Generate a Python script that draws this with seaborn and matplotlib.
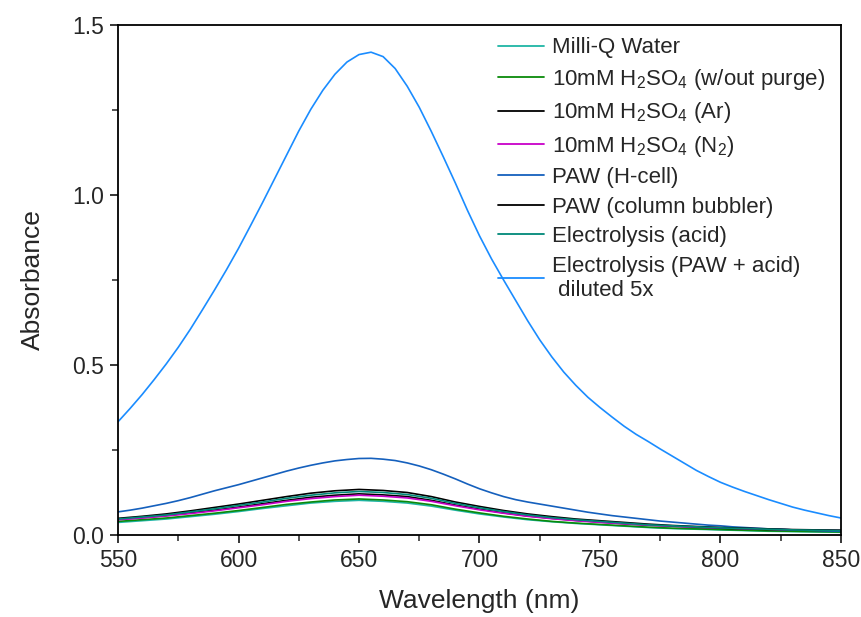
import numpy as np
import pandas as pd
import matplotlib
matplotlib.use("Agg")
import matplotlib.pyplot as plt
import seaborn as sns
from matplotlib.ticker import MultipleLocator

# wavelength grids (nm)
wl_coarse = [550, 560, 570, 580, 590, 600, 610, 620, 630, 640, 650, 660, 670, 680, 690,
             700, 710, 720, 730, 740, 750, 760, 770, 780, 790, 800, 810, 820, 830, 840, 850]
wl_fine = [550, 555, 560, 565, 570, 575, 580, 585, 590, 595, 600, 605, 610, 615, 620, 625,
           630, 635, 640, 645, 650, 655, 660, 665, 670, 675, 680, 685, 690, 695, 700, 705,
           710, 715, 720, 725, 730, 735, 740, 745, 750, 755, 760, 765, 770, 775, 780, 785,
           790, 795, 800, 805, 810, 815, 820, 825, 830, 835, 840, 845, 850]

milliq = [0.037, 0.042, 0.047, 0.054, 0.061, 0.069, 0.078, 0.086, 0.094, 0.099, 0.102, 0.099, 0.094, 0.085, 0.073,
          0.062, 0.053, 0.045, 0.039, 0.034, 0.030, 0.026, 0.022, 0.019, 0.017, 0.015, 0.013, 0.011, 0.010, 0.009, 0.008]
h2so4_nopurge = [0.040, 0.045, 0.050, 0.057, 0.064, 0.072, 0.081, 0.090, 0.097, 0.103, 0.106, 0.103, 0.098, 0.089, 0.076,
                 0.065, 0.055, 0.047, 0.040, 0.035, 0.031, 0.027, 0.023, 0.020, 0.018, 0.016, 0.014, 0.012, 0.011, 0.010, 0.009]
h2so4_ar = [0.046, 0.051, 0.057, 0.065, 0.073, 0.082, 0.092, 0.102, 0.111, 0.117, 0.121, 0.118, 0.113, 0.102, 0.088,
            0.076, 0.065, 0.056, 0.049, 0.043, 0.038, 0.033, 0.029, 0.026, 0.023, 0.020, 0.018, 0.016, 0.015, 0.014, 0.013]
h2so4_n2 = [0.045, 0.050, 0.056, 0.063, 0.071, 0.080, 0.089, 0.099, 0.107, 0.113, 0.117, 0.114, 0.109, 0.099, 0.086,
            0.074, 0.064, 0.055, 0.048, 0.042, 0.037, 0.033, 0.029, 0.026, 0.023, 0.021, 0.019, 0.017, 0.015, 0.014, 0.013]
paw_bubbler = [0.049, 0.055, 0.062, 0.071, 0.081, 0.091, 0.102, 0.113, 0.123, 0.130, 0.134, 0.131, 0.125, 0.113, 0.097,
               0.084, 0.072, 0.062, 0.054, 0.047, 0.042, 0.037, 0.032, 0.028, 0.025, 0.022, 0.020, 0.018, 0.016, 0.015, 0.014]
electro_acid = [0.047, 0.053, 0.059, 0.068, 0.077, 0.087, 0.097, 0.108, 0.117, 0.124, 0.128, 0.125, 0.119, 0.108, 0.093,
                0.080, 0.069, 0.059, 0.051, 0.045, 0.040, 0.035, 0.030, 0.027, 0.024, 0.021, 0.019, 0.017, 0.015, 0.014, 0.013]

paw_hcell = [0.068, 0.073, 0.079, 0.086, 0.093, 0.101, 0.110, 0.120, 0.130, 0.139, 0.148, 0.158, 0.168, 0.178, 0.188, 0.197,
             0.205, 0.212, 0.218, 0.222, 0.225, 0.2255, 0.223, 0.219, 0.212, 0.203, 0.192, 0.179, 0.165, 0.150, 0.136, 0.124,
             0.113, 0.104, 0.097, 0.091, 0.085, 0.079, 0.073, 0.067, 0.062, 0.057, 0.053, 0.049, 0.045, 0.041, 0.038, 0.035,
             0.032, 0.029, 0.027, 0.024, 0.022, 0.020, 0.018, 0.017, 0.015, 0.014, 0.013, 0.012, 0.011]
electro_paw = [0.333, 0.372, 0.413, 0.457, 0.503, 0.552, 0.605, 0.662, 0.720, 0.780, 0.843, 0.910, 0.978, 1.048, 1.118, 1.188,
               1.252, 1.308, 1.355, 1.391, 1.413, 1.420, 1.407, 1.372, 1.320, 1.258, 1.187, 1.112, 1.035, 0.955, 0.880, 0.812,
               0.750, 0.690, 0.630, 0.574, 0.524, 0.479, 0.440, 0.405, 0.375, 0.347, 0.320, 0.296, 0.275, 0.253, 0.232, 0.211,
               0.190, 0.172, 0.155, 0.141, 0.128, 0.116, 0.104, 0.093, 0.082, 0.073, 0.065, 0.057, 0.050]

labels = [
    "Milli-Q Water",
    "10mM H$_2$SO$_4$ (w/out purge)",
    "10mM H$_2$SO$_4$ (Ar)",
    "10mM H$_2$SO$_4$ (N$_2$)",
    "PAW (H-cell)",
    "PAW (column bubbler)",
    "Electrolysis (acid)",
    "Electrolysis (PAW + acid)\n diluted 5x",
]
series = [(wl_coarse, milliq), (wl_coarse, h2so4_nopurge), (wl_coarse, h2so4_ar), (wl_coarse, h2so4_n2),
          (wl_fine, paw_hcell), (wl_coarse, paw_bubbler), (wl_coarse, electro_acid), (wl_fine, electro_paw)]
colors = ["#1fb5a5", "#0a8a0a", "#000000", "#c800c8", "#1560bd", "#000000", "#008878", "#1a8cff"]

rows = []
for lab, (wls, vals) in zip(labels, series):
    for w, v in zip(wls, vals):
        rows.append({"Wavelength": w, "Absorbance": v, "Sample": lab})
df = pd.DataFrame(rows)

sns.set_style("ticks")
plt.rcParams["font.family"] = ["Liberation Sans", "DejaVu Sans"]
plt.rcParams["mathtext.fontset"] = "custom"
plt.rcParams["mathtext.rm"] = "Liberation Sans"
plt.rcParams["mathtext.it"] = "Liberation Sans:italic"
plt.rcParams["mathtext.bf"] = "Liberation Sans:bold"

fig = plt.figure(figsize=(8.62, 6.17), dpi=100)
ax = fig.add_axes([0.1369, 0.1329, 0.8387, 0.8266])

sns.lineplot(data=df, x="Wavelength", y="Absorbance", hue="Sample", hue_order=labels,
             palette=dict(zip(labels, colors)), linewidth=1.2, ax=ax, sort=True)

ax.set_xlim(550, 850)
ax.set_ylim(0, 1.5)
ax.xaxis.set_major_locator(MultipleLocator(50))
ax.xaxis.set_minor_locator(MultipleLocator(25))
ax.yaxis.set_major_locator(MultipleLocator(0.5))
ax.yaxis.set_minor_locator(MultipleLocator(0.25))
ax.yaxis.set_major_formatter(matplotlib.ticker.FormatStrFormatter("%.1f"))
ax.tick_params(which="major", direction="out", length=6, width=1.1, labelsize=16.5, color="black", pad=4)
ax.tick_params(which="minor", direction="out", length=4, width=1.1)
ax.tick_params(top=False, right=False, which="both")
for s in ax.spines.values():
    s.set_linewidth(1.3)
    s.set_color("black")

ax.set_xlabel("Wavelength (nm)", fontsize=19, labelpad=12)
ax.set_ylabel("Absorbance", fontsize=19, labelpad=20)

leg = ax.legend(loc="upper left", bbox_to_anchor=(0.513, 0.993), frameon=False, fontsize=16,
                handlelength=2.1, handletextpad=0.35, labelspacing=0.38, borderaxespad=0)
for line in leg.get_lines():
    line.set_linewidth(1.3)

fig.savefig("out.png", dpi=100)
